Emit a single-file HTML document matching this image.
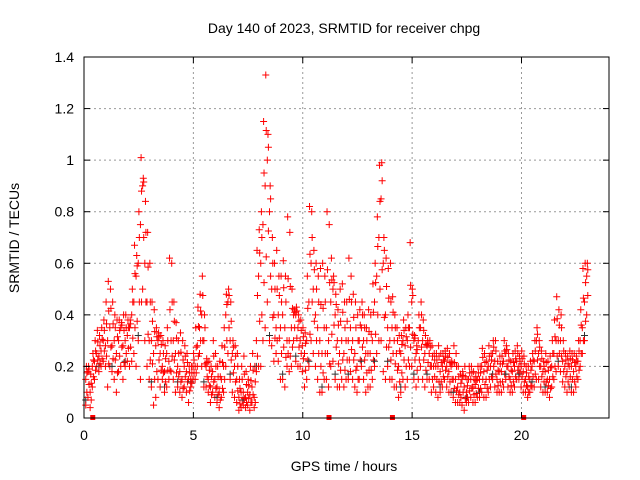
<!DOCTYPE html>
<html><head><meta charset="utf-8"><style>
body{margin:0;background:#fff;}
svg{display:block;font-family:"Liberation Sans",sans-serif;}
</style></head><body>
<svg id="chart" width="640" height="480" viewBox="0 0 640 480">
<text x="344" y="33" font-size="14" text-anchor="middle">Day 140 of 2023, SRMTID for receiver chpg</text>
<text transform="translate(19,238) rotate(-90)" font-size="14" text-anchor="middle">SRMTID / TECUs</text>
<text x="344" y="471" font-size="14" text-anchor="middle">GPS time / hours</text>
<g id="grid"></g><g id="marks"></g><g id="axes"></g>
</svg>
<script>
const xTicks=[0,5,10,15,20];
const yTicks=[0,0.2,0.4,0.6,0.8,1,1.2,1.4];
const yTickLabels=["0","0.2","0.4","0.6","0.8","1","1.2","1.4"];
const step=0.1;
const lowVals=[.05,.08,.04,.12,.15,.2,.18,.2,.22,.2,.12,.2,.18,.15,.1,.18,.2,.15,.2,.22,.2,.22,.25,.2,.3,.15,.5,.3,.2,.15,.12,.05,.08,.15,.12,.15,.1,.12,.15,.18,.15,.1,.12,.1,.08,.12,.1,.06,.12,.15,.15,.2,.25,.2,.12,.12,.1,.06,.1,.08,.06,.04,.08,.1,.2,.25,.15,.1,.08,.06,.03,.04,.05,.04,.05,.03,.06,.04,.18,.2,.2,.3,.35,.45,.3,.28,.22,.25,.22,.15,.15,.12,.2,.18,.2,.3,.22,.2,.2,.18,.12,.15,.2,.3,.25,.2,.15,.1,.1,.15,.15,.12,.2,.22,.15,.12,.12,.15,.12,.15,.15,.18,.15,.12,.1,.15,.2,.15,.1,.12,.12,.15,.2,.25,.3,.3,.18,.15,.2,.15,.15,.12,.12,.08,.1,.15,.12,.15,.2,.2,.15,.12,.15,.2,.15,.12,.15,.15,.1,.12,.1,.08,.1,.12,.15,.12,.1,.1,.08,.06,.06,.06,.05,.03,.06,.06,.08,.06,.06,.08,.08,.1,.08,.08,.1,.12,.15,.12,.1,.1,.1,.12,.15,.12,.1,.1,.12,.15,.15,.12,.1,.1,.08,.1,.12,.12,.15,.15,.12,.1,.1,.1,.08,.12,.15,.18,.2,.18,.14,.12,.1,.12,.1,.1,.12,.15,.2,.25,.3,.4];
const midVals=[.15,.18,.1,.2,.22,.25,.24,.26,.3,.28,.3,.35,.28,.3,.25,.3,.35,.28,.3,.32,.35,.4,.45,.55,.6,.75,.9,.6,.45,.3,.3,.25,.28,.3,.25,.2,.18,.25,.22,.3,.3,.25,.2,.18,.15,.2,.18,.15,.15,.2,.2,.28,.35,.4,.3,.2,.15,.12,.18,.15,.12,.1,.15,.2,.4,.45,.3,.25,.2,.15,.08,.1,.1,.08,.1,.09,.12,.08,.3,.55,.6,.75,.9,1.0,.8,.5,.4,.35,.4,.35,.4,.35,.3,.3,.35,.4,.4,.35,.3,.28,.25,.3,.45,.6,.5,.4,.35,.3,.25,.35,.35,.3,.45,.5,.4,.3,.25,.3,.25,.3,.3,.35,.3,.25,.2,.3,.35,.3,.25,.25,.25,.3,.45,.55,.7,.85,.6,.4,.35,.3,.35,.3,.25,.2,.25,.3,.28,.3,.35,.45,.3,.25,.3,.35,.3,.25,.28,.25,.2,.2,.2,.2,.18,.2,.22,.2,.18,.2,.15,.15,.12,.1,.15,.12,.1,.15,.15,.12,.13,.15,.15,.2,.18,.15,.2,.2,.25,.22,.15,.18,.18,.22,.25,.2,.15,.18,.2,.22,.2,.2,.18,.15,.12,.15,.2,.22,.3,.25,.2,.18,.18,.15,.15,.2,.25,.3,.3,.3,.22,.2,.18,.2,.2,.18,.2,.22,.3,.35,.45,.55];
const highVals=[.2,.2,.17,.25,.3,.34,.32,.35,.38,.45,.53,.5,.45,.4,.38,.38,.37,.4,.4,.38,.38,.5,.67,.63,.8,1.01,.93,.84,.72,.6,.45,.42,.35,.33,.32,.3,.28,.35,.62,.6,.45,.37,.3,.33,.3,.28,.25,.2,.2,.25,.35,.43,.48,.55,.4,.23,.22,.2,.3,.25,.2,.22,.28,.35,.48,.5,.45,.3,.28,.25,.15,.2,.24,.18,.15,.2,.25,.2,.65,.73,.8,1.15,1.33,1.1,.9,.7,.6,.65,.55,.55,.61,.55,.78,.72,.5,.42,.43,.4,.38,.35,.33,.55,.82,.8,.65,.6,.55,.58,.6,.55,.8,.75,.62,.55,.48,.42,.5,.52,.45,.45,.62,.55,.48,.45,.4,.42,.45,.4,.35,.42,.4,.52,.6,.78,.98,.99,.7,.62,.58,.6,.47,.4,.35,.32,.32,.38,.35,.4,.68,.5,.32,.28,.4,.45,.38,.32,.3,.3,.28,.25,.25,.28,.25,.25,.26,.27,.25,.22,.28,.25,.2,.17,.18,.2,.15,.2,.2,.18,.16,.2,.2,.27,.25,.22,.28,.25,.3,.3,.22,.24,.24,.3,.28,.25,.22,.25,.26,.28,.24,.26,.24,.2,.2,.22,.25,.3,.35,.3,.26,.22,.25,.22,.24,.3,.38,.47,.42,.4,.3,.25,.24,.26,.25,.25,.24,.3,.42,.58,.6,.6];
const gapHours=[0.4,11.2,14.1,20.1];
const L=84,R=609,T=57,B=418,XMAX=24,YMAX=1.4;
const xs=h=>L+h/XMAX*(R-L);
const ys=v=>B-v/YMAX*(B-T);
const NS="http://www.w3.org/2000/svg";
function mk(tag,attrs,parent){const e=document.createElementNS(NS,tag);for(const k in attrs)e.setAttribute(k,attrs[k]);parent.appendChild(e);return e;}
const grid=document.getElementById('grid'),marks=document.getElementById('marks'),axes=document.getElementById('axes');
xTicks.forEach(t=>{
 if(t>0){const g=mk('line',{x1:xs(t),x2:xs(t),y1:T,y2:B,stroke:'#999','stroke-dasharray':'2,3'},grid);
 
 }
 mk('line',{x1:xs(t),x2:xs(t),y1:B,y2:B-6,stroke:'#000'},axes);
 mk('line',{x1:xs(t),x2:xs(t),y1:T,y2:T+6,stroke:'#000'},axes);
 const tx=mk('text',{x:xs(t),y:B+22,'font-size':14,'text-anchor':'middle'},axes);tx.textContent=t;
 
 
});
yTicks.forEach((v,i)=>{
 if(v>0&&v<YMAX){const g=mk('line',{x1:L,x2:R,y1:ys(v),y2:ys(v),stroke:'#999','stroke-dasharray':'2,3'},grid);
 
 }
 mk('line',{x1:L,x2:L+6,y1:ys(v),y2:ys(v),stroke:'#000'},axes);
 mk('line',{x1:R,x2:R-6,y1:ys(v),y2:ys(v),stroke:'#000'},axes);
 const tx=mk('text',{x:L-10,y:ys(v)+5,'font-size':14,'text-anchor':'end'},axes);tx.textContent=yTickLabels[i];
 
 
});
const fr=mk('rect',{x:L,y:T,width:R-L,height:B-T,fill:'none',stroke:'#000'},axes);


function plus(x,y,c){const p=mk('path',{d:`M${x-3.5} ${y}h7M${x} ${y-3.5}v7`,stroke:c,'stroke-width':1,fill:'none'},marks);
 
 }
midVals.forEach((m,i)=>{
 const t=i*step+0.08, lo=lowVals[i], hi=highVals[i];
 if(i%6===0) plus(xs(t),ys(lo+0.02),'#333');
 plus(xs(t),ys(lo),'#f00');
 plus(xs(t+0.05),ys((lo+m)/2),'#f00');
 plus(xs(t),ys(m),'#f00');
 plus(xs(t+0.05),ys((m+hi)/2),'#f00');
 plus(xs(t+0.03),ys(hi),'#f00');
});
gapHours.forEach(h=>{const r=mk('rect',{x:xs(h)-2.5,y:B-3,width:5,height:5,fill:'#f00'},marks);
 
 });
</script>
</body></html>
